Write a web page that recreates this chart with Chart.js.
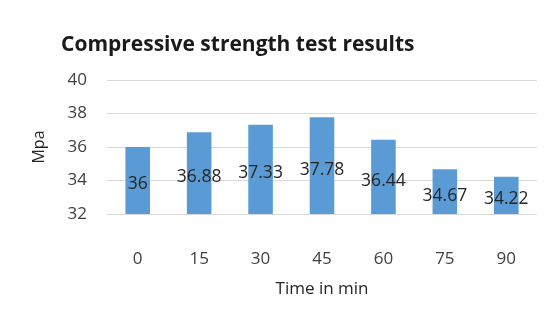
<!DOCTYPE html>
<html>
<head>
<meta charset="utf-8">
<script src="https://cdn.jsdelivr.net/npm/chart.js@4/dist/chart.umd.min.js"></script>
<style>
  html, body { margin: 0; padding: 0; background: #ffffff; }
  #wrap { width: 553px; height: 325px; position: relative; }
</style>
</head>
<body>
<div id="wrap"><canvas id="c" width="553" height="325"></canvas></div>
<script>
// Compressive strength over time
const titleText = 'Compressive strength test results';
const timeLabels = ['0', '15', '30', '45', '60', '75', '90'];
const strengthMpa = [36, 36.88, 37.33, 37.78, 36.44, 34.67, 34.22];
const yTickValues = [32, 34, 36, 38, 40];

const FONT = "'Open Sans', 'DejaVu Sans', sans-serif";

// Left-aligned chart title plus value labels centred on the visible part of each bar
const annotate = {
  id: 'annotate',
  afterDraw(chart) {
    const ctx = chart.ctx;
    const area = chart.chartArea;
    ctx.save();
    ctx.font = "bold 21px " + FONT;
    ctx.fillStyle = '#1a1a1a';
    ctx.textAlign = 'left';
    ctx.textBaseline = 'middle';
    ctx.fillText(titleText, area.left - 46, 45);

    const meta = chart.getDatasetMeta(0);
    const values = chart.data.datasets[0].data;
    ctx.font = "17.5px " + FONT;
    ctx.fillStyle = '#262626';
    ctx.textAlign = 'center';
    for (let i = 0; i < meta.data.length; i++) {
      const bar = meta.data[i];
      const mid = (bar.y + area.bottom) / 2 + 4;
      ctx.fillText(String(values[i]), bar.x, mid);
    }
    ctx.restore();
  }
};

new Chart(document.getElementById('c'), {
  type: 'bar',
  data: {
    labels: timeLabels,
    datasets: [{
      data: strengthMpa,
      backgroundColor: '#5B9BD5',
      borderWidth: 0,
      barPercentage: 0.4,
      categoryPercentage: 1.0
    }]
  },
  options: {
    responsive: false,
    animation: false,
    devicePixelRatio: 1,
    layout: { padding: { left: 30, right: 16, top: 80, bottom: 0 } },
    plugins: {
      legend: { display: false },
      tooltip: { enabled: false },
      title: { display: false }
    },
    scales: {
      x: {
        grid: { display: false },
        border: { display: false },
        ticks: { color: '#404040', font: { family: FONT, size: 17 }, padding: 27 },
        title: {
          display: true,
          text: 'Time in min',
          color: '#262626',
          font: { family: FONT, size: 17 },
          padding: { top: 0, bottom: 26 }
        },
        afterFit(scale) { scale.height = 111; }
      },
      y: {
        min: 32,
        max: 40,
        afterBuildTicks(scale) { scale.ticks = yTickValues.map(v => ({ value: v })); },
        grid: { color: '#D9D9D9', lineWidth: 1, drawTicks: false },
        border: { display: false },
        ticks: { color: '#404040', font: { family: FONT, size: 17 }, padding: 20 },
        title: {
          display: true,
          text: 'Mpa',
          color: '#262626',
          font: { family: FONT, size: 16 },
          padding: 0
        },
        afterFit(scale) { scale.width = 77; }
      }
    }
  },
  plugins: [annotate]
});
</script>
</body>
</html>
